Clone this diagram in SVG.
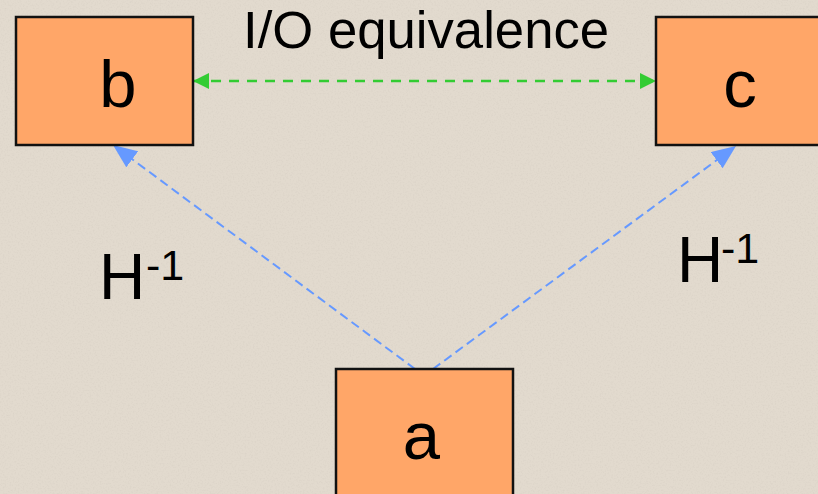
<svg xmlns="http://www.w3.org/2000/svg" width="818" height="494" viewBox="0 0 818 494">
  <defs>
    <style>
      .box { fill: #ffa668; stroke: #111; stroke-width: 2.5; }
      .lbl { font-family: "Liberation Sans", Arial, sans-serif; fill: #000; }
      .node-lbl { font-size: 67px; text-anchor: middle; }
      .io { stroke: #33cc33; stroke-width: 2.5; stroke-dasharray: 10 8; fill: none; }
      .inv { stroke: #6699ff; stroke-width: 2; stroke-dasharray: 9 5; fill: none; }
    </style>
    <marker id="arrGreen" viewBox="0 0 16 16" refX="16" refY="8" markerWidth="16" markerHeight="16" markerUnits="userSpaceOnUse" orient="auto-start-reverse">
      <path d="M0,0 L16,8 L0,16 Z" fill="#33cc33"/>
    </marker>
    <marker id="arrBlue" viewBox="0 0 24 20" refX="24" refY="10" markerWidth="24" markerHeight="20" markerUnits="userSpaceOnUse" orient="auto">
      <path d="M0,0 L24,10 L0,20 Z" fill="#6699ff"/>
    </marker>
    <filter id="grain" x="0" y="0" width="100%" height="100%">
      <feTurbulence type="fractalNoise" baseFrequency="0.6" numOctaves="2" seed="3" result="n"/>
      <feColorMatrix in="n" type="matrix" values="0 0 0 0 0.55  0 0 0 0 0.5  0 0 0 0 0.44  0 0 0 -1.4 0.75" result="c"/>
      <feComposite in="c" in2="SourceGraphic" operator="in"/>
    </filter>
  </defs>

  <!-- stone-like backdrop -->
  <rect width="818" height="494" fill="#e2dace"/>
  <rect width="818" height="494" fill="#000" filter="url(#grain)" opacity="0.35"/>

  <!-- connectors -->
  <g id="connectors">
    <line class="io" x1="193" y1="81" x2="656" y2="81" marker-start="url(#arrGreen)" marker-end="url(#arrGreen)"/>
    <line class="inv" x1="415" y1="369" x2="113" y2="145" marker-end="url(#arrBlue)"/>
    <line class="inv" x1="433" y1="369" x2="736" y2="146" marker-end="url(#arrBlue)"/>
  </g>

  <g id="node-b">
    <rect class="box" x="16" y="17" width="177" height="128"/>
    <text class="lbl node-lbl" x="118" y="107">b</text>
  </g>

  <g id="node-c">
    <rect class="box" x="656" y="17" width="177" height="128"/>
    <text class="lbl node-lbl" x="740" y="107">c</text>
  </g>

  <g id="node-a">
    <rect class="box" x="336" y="369" width="177" height="140"/>
    <text class="lbl node-lbl" x="421.5" y="459">a</text>
  </g>

  <g id="labels">
    <text class="lbl" x="243" y="48" font-size="52.7">I/O equivalence</text>
    <text class="lbl" x="99" y="299" font-size="64">H</text>
    <text class="lbl" x="146" y="280" font-size="43">-1</text>
    <text class="lbl" x="677" y="282" font-size="64">H</text>
    <text class="lbl" x="721" y="263" font-size="43">-1</text>
  </g>
</svg>
